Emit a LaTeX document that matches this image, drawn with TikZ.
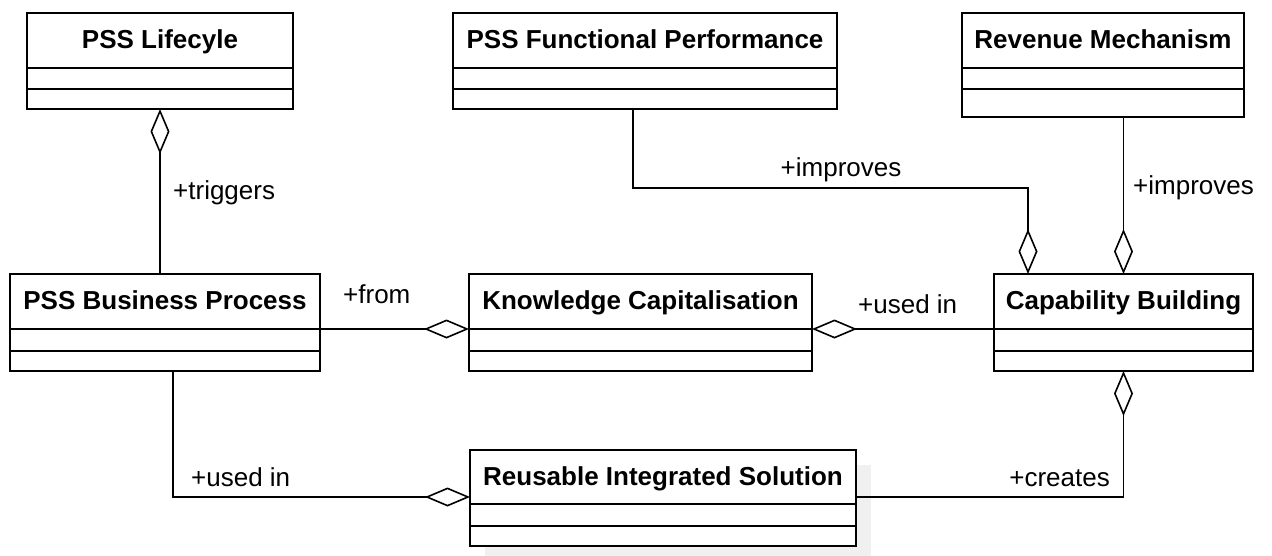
\documentclass[tikz,border=0pt]{standalone}
\usepackage{fontspec}
\setmainfont{Liberation Sans}
\usetikzlibrary{positioning,arrows.meta,backgrounds}

\tikzset{
  classtitle/.style={draw, fill=white, line width=1.8pt, font=\fontsize{26}{30}\selectfont\bfseries,
    inner sep=0pt, outer sep=0pt, text height=19pt, text depth=3pt, anchor=north west},
  compart/.style={draw, fill=white, line width=1.8pt, inner sep=0pt, outer sep=0pt},
  assoc/.style={line width=1.6pt},
  agg/.style={assoc, -{Diamond[open, length=45pt, width=19pt]}},
  role/.style={font=\fontsize{26}{30}\selectfont, inner sep=0pt},
}

\begin{document}
\begin{tikzpicture}[x=1pt, y=-1pt]
    \useasboundingbox (0,0) rectangle (1272,555);

    % Klassen mit drei Abteilen
    \foreach \name/\x/\y/\w/\hh/\ha/\hb/\txt in {
        lc/27/13/266/55/21/20/PSS Lifecyle,
        pfp/453/13/384/55/21/20/PSS Functional Performance,
        rm/962/13/282/55/21/28/Revenue Mechanism,
        bp/10/274/310/55/22/20/PSS Business Process,
        kc/469/274/343/55/22/20/Knowledge Capitalisation,
        cb/994/274/259/55/22/20/Capability Building,
        ris/470/450/386/54/22/20/Reusable Integrated Solution} {
        \node[classtitle, minimum width=\w pt, minimum height=\hh pt] (\name) at (\x,\y) {\txt};
        \node[compart, below=0pt of \name, minimum width=\w pt, minimum height=\ha pt] (\name-a) {};
        \node[compart, below=0pt of \name-a, minimum width=\w pt, minimum height=\hb pt] (\name-b) {};
    }

    % Schatten
    \begin{scope}[on background layer]
        \fill[black!6] ([shift={(15pt,-15pt)}]ris.north west) rectangle ([shift={(15pt,-15pt)}]ris-b.south east);
    \end{scope}

    % Aggregationen
    \draw[agg] (lc-b.south |- bp.north) -- (lc-b.south);
    \draw[agg] (bp.south east) -- (kc.south west);
    \draw[agg] (cb.south west) -- (kc.south east);
    \draw[agg] ([xshift=-12pt]pfp-b.south) -- ++(0,79) -| ([xshift=34pt]cb.north west);
    \draw[agg] (cb.north |- rm-b.south) -- (cb.north);
    \draw[agg] ([yshift=7pt]ris.south east) -| (cb-b.south);
    \draw[agg] ([xshift=8pt]bp-b.south) |- ([yshift=7pt]ris.south west);

    % Rollen
    \node[role, anchor=base west] (trig) at (173,199) {+triggers};
    \node[role, anchor=base west] (from) at (343,303) {+from};
    \node[role, anchor=base west] (usedkc) at (858,313) {+used in};
    \node[role, anchor=base] (imprpfp) at (841,176) {+improves};
    \node[role, anchor=base west] (imprrm) at (1133,194) {+improves};
    \node[role, anchor=base west] (usedris) at (191,486) {+used in};
    \node[role, anchor=base east] (creates) at (1110,486) {+creates};
\end{tikzpicture}
\end{document}
